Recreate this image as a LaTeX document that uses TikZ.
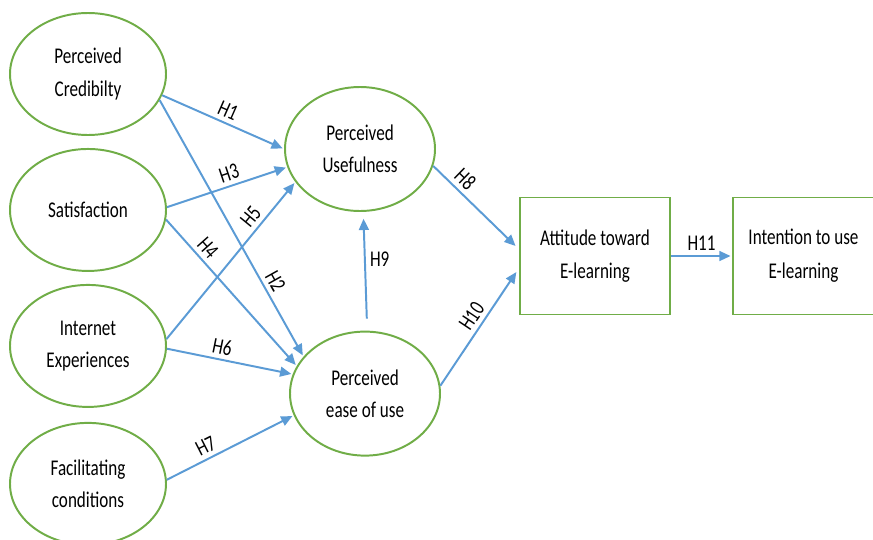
\documentclass[tikz,border=0pt]{standalone}
\usepackage{fontspec}
\setmainfont{Carlito}[FakeStretch=0.76]
\usetikzlibrary{shapes.geometric,arrows.meta,positioning}
\definecolor{ringgreen}{RGB}{112,173,71}
\definecolor{linkblue}{RGB}{91,155,213}

\begin{document}
\begin{tikzpicture}[
    node distance=0.3cm,
    factor/.style={ellipse, draw=ringgreen, line width=1.4pt, minimum width=3.9cm, minimum height=3.05cm, inner sep=0pt, align=center, font=\fontsize{16}{23}\selectfont},
    construct/.style={ellipse, draw=ringgreen, line width=1.4pt, minimum width=3.75cm, minimum height=3.1cm, inner sep=0pt, align=center, font=\fontsize{16}{23}\selectfont},
    outcome/.style={rectangle, draw=ringgreen, line width=1.4pt, minimum height=2.925cm, inner sep=0pt, align=center, font=\fontsize{16}{24}\selectfont},
    link/.style={-{Triangle[length=8pt,width=7pt]}, draw=linkblue, line width=1.4pt, shorten >=1pt},
    hyp/.style={font=\fontsize{16}{18}\selectfont, inner sep=3pt}
]
\useasboundingbox (0,0) rectangle (21.825,-13.475);

% External factors (left column)
\node[factor] (cred) at (2.2,-1.85) {Perceived\\Credibilty};
\node[factor, below=0.3cm of cred] (sat) {Satisfaction};
\node[factor, below=0.3cm of sat] (inet) {Internet\\Experiences};
\node[factor, below=0.35cm of inet] (fac) {Facilitating\\conditions};

% TAM constructs (middle column)
\node[construct] (use) at (9.0,-3.725) {Perceived\\Usefulness};
\node[construct] (ease) at (9.125,-9.84) {Perceived\\ease of use};

% Attitude and intention (right)
\node[outcome, minimum width=3.75cm] (att) at (14.875,-6.4) {Attitude toward\\E-learning};
\node[outcome, minimum width=3.525cm, right=1.525cm of att] (intent) {Intention to use\\E-learning};

% Hypothesised paths
\draw[link] (cred.-16) -- node[hyp, sloped, above, pos=0.5] {H1} (use.180);
\draw[link] (cred.-20) -- node[hyp, sloped, above, pos=0.73] {H2} (ease.149);
\draw[link] (sat.2) -- node[hyp, sloped, above, pos=0.55] {H3} (use.194);
\draw[link] (sat.-7) -- node[hyp, sloped, above, pos=0.25] {H4} (ease.158);
\draw[link] (inet.5) -- node[hyp, sloped, above, pos=0.73] {H5} (use.207);
\draw[link] (inet.-2) -- node[hyp, sloped, above, pos=0.42] {H6} (ease.165);
\draw[link] (fac.3) -- node[hyp, sloped, above, pos=0.35] {H7} (ease.197);
\draw[link, shorten <=0.3cm, shorten >=0.17cm] (ease.88) -- node[hyp, right, pos=0.6] {H9} (use.273);
\draw[link, shorten >=0.12cm] (use.-13) -- node[hyp, sloped, above, pos=0.27] {H8} (att.175);
\draw[link, shorten >=0.12cm] (ease.6) -- node[hyp, sloped, above, pos=0.53] {H10} (att.189);
\draw[link] (att.east) -- node[hyp, above] {H11} (intent.west);

\end{tikzpicture}
\end{document}
